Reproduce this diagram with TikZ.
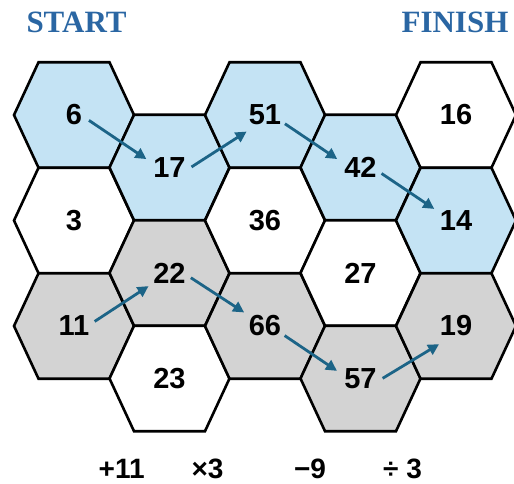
\documentclass[tikz,border=0pt]{standalone}
\usepackage{fontspec}
\setmainfont{Liberation Sans}
\newfontfamily\titlefont{Liberation Serif}
\usepackage{xcolor}
\usepackage{tikz}
\usetikzlibrary{arrows.meta}
\definecolor{cellblue}{HTML}{C4E3F4}
\definecolor{cellgray}{HTML}{D3D3D3}
\definecolor{hopteal}{HTML}{1C6487}
\definecolor{titleblue}{HTML}{2A66A3}
\tikzset{>={Triangle[length=11pt,width=11pt]}}
\tikzset{
  hexcell/.style={line width=2.6pt, line join=miter, draw=black},
  cellnum/.style={circle, inner sep=4pt, font=\fontsize{29}{30}\selectfont\bfseries},
  opnum/.style={inner sep=0pt, font=\fontsize{28}{30}\selectfont\bfseries},
  title/.style={inner sep=0pt, text=titleblue, font=\titlefont\fontsize{31}{32}\selectfont\bfseries},
  hop/.style={->, line width=2.8pt, draw=hopteal, shorten <=-3pt}
}

\begin{document}
\begin{tikzpicture}[x=1pt, y=-1pt]
	\useasboundingbox (0,0) rectangle (514,484);
	\foreach \x/\y/\c/\v in {74/115/cellblue/6, 74/220.5/white/3, 74/326/cellgray/11,
			169.5/167.5/cellblue/17, 169.5/273/cellgray/22, 169.5/378.5/white/23,
			265/115/cellblue/51, 265/220.5/white/36, 265/326/cellgray/66,
			360.5/167.5/cellblue/42, 360.5/273/white/27, 360.5/378.5/cellgray/57,
			456/115/white/16, 456/220.5/cellblue/14, 456/326/cellgray/19}{
		\filldraw[hexcell, fill=\c] (\x-60,\y) -- (\x-35.5,\y-52.7) -- (\x+35.5,\y-52.7) -- (\x+60,\y) -- (\x+35.5,\y+52.7) -- (\x-35.5,\y+52.7) -- cycle;
		\node[cellnum] (h\v) at (\x,\y) {\v};
	}
	\draw[hop] (h6.-22) -- (h17.160);
	\draw[hop] (h17.5) -- (h51.222);
	\draw[hop] (h51.-25) -- (h42.160);
	\draw[hop] (h42.-18) -- (h14.152);
	\draw[hop] (h11.15) -- (h22.212);
	\draw[hop] (h22.-15) -- (h66.147);
	\draw[hop] (h66.-27) -- (h57.162);
	\draw[hop] (h57.4) -- (h19.227);
	\node[title] (start) at (76.5,22.5) {START};
	\node[title] (finish) at (455,22.5) {FINISH};
	\node[opnum] (opadd) at (121.7,468.5) {+11};
	\node[opnum] (opmul) at (207.5,468.5) {×3};
	\node[opnum] (opsub) at (310,468.5) {−9};
	\node[opnum] (opdiv) at (402.5,468.5) {÷ 3};
\end{tikzpicture}
\end{document}
